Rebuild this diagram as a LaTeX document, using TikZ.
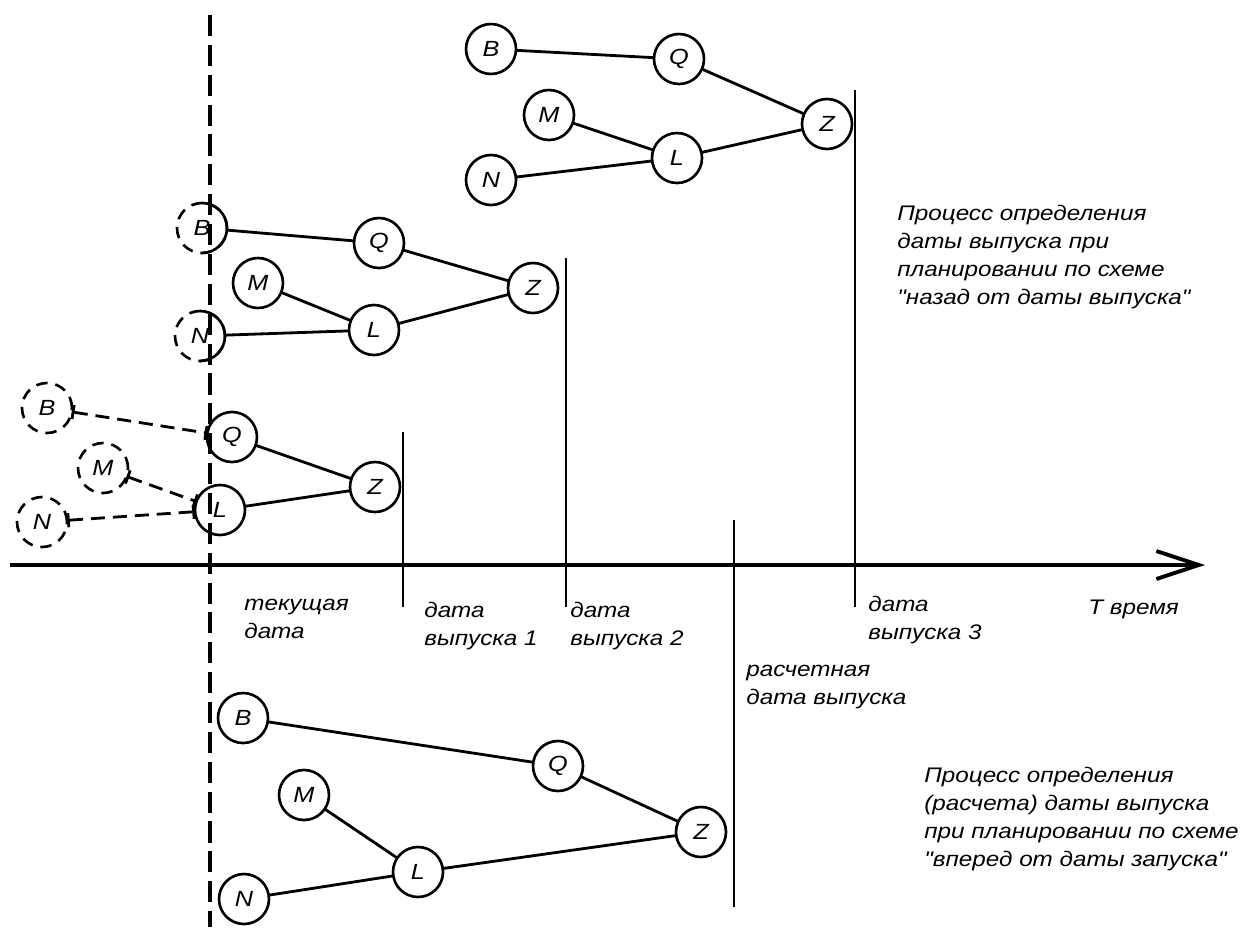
\documentclass[tikz,border=0pt]{standalone}
\usepackage{fontspec}
\newfontfamily\lblfont{Liberation Sans}[FakeStretch=1.15]
\usetikzlibrary{arrows.meta}

\tikzset{
  job/.style={circle,draw,line width=1.5pt,minimum size=1cm,inner sep=0pt,outer sep=0pt,
    font=\lblfont\itshape\fontsize{12.5}{15.9}\selectfont},
  ghost/.style={job,dash pattern=on 6.5pt off 4.5pt},
  link/.style={line width=1.6pt},
  moved/.style={line width=1.6pt,dash pattern=on 8pt off 4.5pt,{Bar[width=8pt]}-{Bar[width=8pt]}},
  datemark/.style={line width=0.8pt},
  lbl/.style={anchor=base west,align=left,inner sep=0pt,
    font=\lblfont\itshape\fontsize{12}{15.9}\selectfont}
}

\begin{document}
\begin{tikzpicture}[x=0.02cm,y=-0.02cm]
\useasboundingbox (0,0) rectangle (1253,927);

% time axis and current date
\coordinate (t0) at (10,565);
\coordinate (t1) at (1205,565);
\draw[line width=2.2pt,-{Straight Barb[length=0.85cm,width=0.56cm]}] (t0) -- (t1);
\draw[line width=2.2pt,dash pattern=on 12pt off 5pt] (210,15) -- (210,927);

% release dates
\draw[datemark] (403,432) -- (403,607);
\draw[datemark] (566,258) -- (566,607);
\draw[datemark] (855,90) -- (855,607);
\draw[datemark] (734,520) -- (734,907);

% backward from release date 3
\node[job] (Ba) at (491,49) {B};
\node[job] (Qa) at (679,59) {Q};
\node[job] (Ma) at (549,115) {M};
\node[job] (La) at (677,158) {L};
\node[job] (Na) at (491,180) {N};
\node[job] (Za) at (827,124) {Z};

% backward from release date 2
\node[ghost] (Bb) at (202,228) {B};
\node[job] (Qb) at (379,243) {Q};
\node[job] (Mb) at (258,283) {M};
\node[job] (Lb) at (374,330) {L};
\node[ghost] (Nb) at (200,336) {N};
\node[job] (Zb) at (533,288) {Z};
\draw[line width=1.5pt] (Bb.north) arc[start angle=90,end angle=-90,radius=0.5cm];
\draw[line width=1.5pt] (Nb.north) arc[start angle=90,end angle=-90,radius=0.5cm];

% backward from release date 1
\node[ghost] (Bc) at (47,408) {B};
\node[ghost] (Mc) at (103,468) {M};
\node[ghost] (Nc) at (42,522) {N};
\node[job] (Qc) at (232,437) {Q};
\node[job] (Lc) at (220,510) {L};
\node[job] (Zc) at (375,487) {Z};

% forward from current date
\node[job] (Bd) at (243,718) {B};
\node[job] (Qd) at (558,766) {Q};
\node[job] (Md) at (304,795) {M};
\node[job] (Ld) at (418,872) {L};
\node[job] (Nd) at (244,899) {N};
\node[job] (Zd) at (701,832) {Z};

\foreach \g in {a,b,d} {
  \draw[link] (B\g) -- (Q\g);
  \draw[link] (M\g) -- (L\g);
  \draw[link] (N\g) -- (L\g);
}
\foreach \g in {a,b,c,d} {
  \draw[link] (Q\g) -- (Z\g);
  \draw[link] (L\g) -- (Z\g);
}
\draw[moved] (Bc) -- (Qc);
\draw[moved] (Mc) -- (Lc);
\draw[moved] (Nc) -- (Lc);

% labels (base = last line)
\node[lbl] (cur) at (244,638) {текущая\\дата};
\node[lbl] (rel1) at (424,645) {дата\\выпуска 1};
\node[lbl] (rel2) at (570,645) {дата\\выпуска 2};
\node[lbl] (rel3) at (868,639) {дата\\выпуска 3};
\node[lbl] (tm) at (1088,614) {T время};
\node[lbl] (calc) at (746,704) {расчетная\\дата выпуска};
\node[lbl] (back) at (897,304) {Процесс определения\\даты выпуска при\\планировании по схеме\\"назад от даты выпуска"};
\node[lbl] (fwd) at (924,866) {Процесс определения\\(расчета) даты выпуска\\при планировании по схеме\\"вперед от даты запуска"};
\end{tikzpicture}
\end{document}
